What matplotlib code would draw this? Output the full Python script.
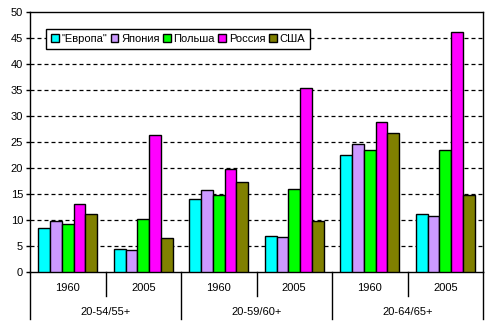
import matplotlib
matplotlib.use("Agg")
import matplotlib.pyplot as plt
import numpy as np
from matplotlib.patches import Patch

plt.rcParams['font.family'] = ['Liberation Sans', 'DejaVu Sans']

years = ["1960", "2005", "1960", "2005", "1960", "2005"]
age_groups = ["20-54/55+", "20-59/60+", "20-64/65+"]
series_names = ['"Европа"', "Япония", "Польша", "Россия", "США"]
europe = [8.4, 4.4, 14.0, 6.9, 22.5, 11.1]
japan = [9.8, 4.2, 15.7, 6.7, 24.6, 10.7]
poland = [9.2, 10.1, 14.8, 15.9, 23.4, 23.4]
russia = [13.1, 26.3, 19.8, 35.3, 28.8, 46.1]
usa = [11.1, 6.5, 17.4, 9.8, 26.7, 14.9]
colors = ["#00FFFF", "#CC99FF", "#00FF00", "#FF00FF", "#808000"]
series = [europe, japan, poland, russia, usa]

W, H = 493, 330
fig = plt.figure(figsize=(W / 100, H / 100), dpi=100)
ax = fig.add_axes([30 / W, (H - 272) / H, 453 / W, 260 / H])

x = np.arange(len(years))
bw = 0.156
n = len(series)
for i, (vals, c, name) in enumerate(zip(series, colors, series_names)):
    ax.bar(x + (i - (n - 1) / 2) * bw, vals, bw, color=c, edgecolor="black",
           linewidth=1.0, label=name, zorder=3)

fs = 8
ax.set_xlim(-0.5, len(years) - 0.5)
ax.set_ylim(0, 50)
ax.set_yticks(np.arange(0, 51, 5))
ax.tick_params(axis='y', labelsize=fs, length=3, width=1, pad=2)
ax.set_xticks([])
for y in range(5, 50, 5):
    ax.axhline(y, color="black", linewidth=0.9, linestyle=(0, (3.2, 2.4)), zorder=1)
for s in ax.spines.values():
    s.set_linewidth(1.0)

# multi-level category axis
trans = ax.get_xaxis_transform()
px = 1 / 260.0  # one pixel in axes-y units
y_short = -24 * px
y_long = -47 * px
for b in [0.5, 2.5, 4.5]:
    ax.plot([b, b], [0, y_short], transform=trans, color="black", lw=1.0, clip_on=False)
for b in [-0.5, 1.5, 3.5, 5.5]:
    ax.plot([b, b], [0, y_long], transform=trans, color="black", lw=1.0, clip_on=False)
for xi, yr in zip(x, years):
    ax.text(xi, -16 * px, yr, transform=trans, ha="center", va="center", fontsize=fs)
for gi, g in enumerate(age_groups):
    ax.text(2 * gi + 0.5, -40 * px, g, transform=trans, ha="center", va="center", fontsize=fs)

handles = [Patch(facecolor=c, edgecolor="black", linewidth=1.0, label=nm)
           for c, nm in zip(colors, series_names)]
leg = ax.legend(handles=handles, ncol=5, loc="upper left",
                bbox_to_anchor=(16 / 453, 1 - 17 / 260), fontsize=fs,
                frameon=True, fancybox=False, edgecolor="black", framealpha=1,
                handlelength=0.7, handleheight=0.7, handletextpad=0.25,
                columnspacing=0.3, borderpad=0.45, borderaxespad=0)
leg.get_frame().set_linewidth(1.0)
leg.set_zorder(5)

fig.savefig("out.png", dpi=100)
